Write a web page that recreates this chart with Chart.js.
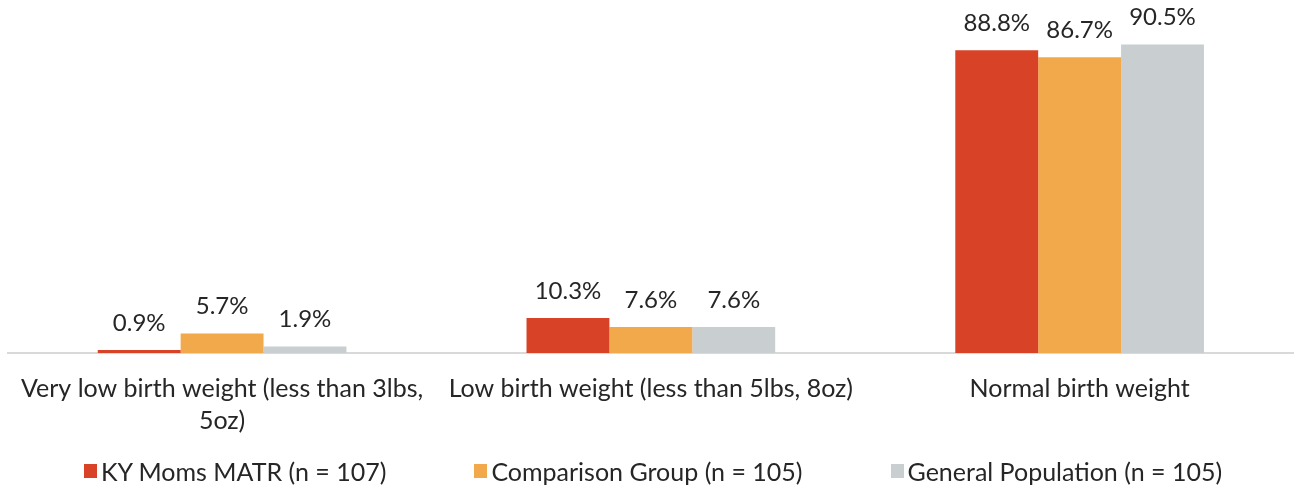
<!DOCTYPE html>
<html lang="en">
<head>
  <meta charset="UTF-8" />
  <title>Birth Weight by Group</title>
  <script src="https://cdn.jsdelivr.net/npm/chart.js"></script>
  <style>
    body {
      margin: 0;
      background: #ffffff;
      font-family: Lato, 'Noto Sans', sans-serif;
      color: #262626;
      overflow: hidden;
    }

    .wrap {
      position: relative;
      width: 1294px;
      height: 488px;
      overflow: hidden;
    }

    .chart-box {
      position: absolute;
      left: 0;
      top: 0;
      width: 1294px;
      height: 460px;
    }

    #legend {
      position: absolute;
      left: 0;
      top: 447px;
      width: 1294px;
      height: 48px;
      display: flex;
      justify-content: center;
      align-items: center;
      gap: 88px;
      padding-left: 12px;
      box-sizing: border-box;
      font-size: 25px;
    }

    .legend-item {
      display: flex;
      align-items: center;
    }

    .legend-box {
      width: 13px;
      height: 14px;
      margin-right: 4px;
    }
  </style>
</head>
<body>
  <div class="wrap">
    <div class="chart-box"><canvas id="weightChart"></canvas></div>
    <div id="legend"></div>
  </div>

<script>
const categories = [
  ["Very low birth weight (less than 3lbs,", "5oz)"],
  "Low birth weight (less than 5lbs, 8oz)",
  "Normal birth weight"
];

const seriesNames = [
  "KY Moms MATR (n = 107)",
  "Comparison Group (n = 105)",
  "General Population (n = 105)"
];

const kyMoms = [0.9, 10.3, 88.8];
const comparison = [5.7, 7.6, 86.7];
const generalPop = [1.9, 7.6, 90.5];

const colors = ["#D84328", "#F2A94C", "#C9CFD1"];
const textColor = "#262626";
const fontFamily = "Lato, 'Noto Sans', sans-serif";

// percent labels above each bar
const valueLabels = {
  id: "valueLabels",
  afterDatasetsDraw(chart) {
    const ctx = chart.ctx;
    ctx.save();
    ctx.font = "24px " + fontFamily;
    ctx.fillStyle = textColor;
    ctx.textAlign = "center";
    ctx.textBaseline = "middle";
    chart.data.datasets.forEach((ds, i) => {
      chart.getDatasetMeta(i).data.forEach((bar, j) => {
        ctx.fillText(ds.data[j].toFixed(1) + "%", bar.x, bar.y - 27);
      });
    });
    ctx.restore();
  }
};

const datasets = [kyMoms, comparison, generalPop].map((vals, i) => ({
  label: seriesNames[i],
  data: vals,
  backgroundColor: colors[i],
  categoryPercentage: 0.58,
  barPercentage: 1.0
}));

new Chart(document.getElementById("weightChart"), {
  type: "bar",
  data: { labels: categories, datasets: datasets },
  options: {
    responsive: true,
    maintainAspectRatio: false,
    animation: false,
    layout: { padding: { left: 6, right: 0, top: 12, bottom: 3 } },
    plugins: {
      legend: { display: false },
      tooltip: { enabled: false }
    },
    scales: {
      x: {
        grid: { display: false, drawTicks: false },
        border: { display: true, color: "#D9D9D9", width: 2 },
        ticks: {
          color: textColor,
          padding: 20,
          maxRotation: 0,
          autoSkip: false,
          font: { family: fontFamily, size: 25, lineHeight: 1.28 }
        }
      },
      y: {
        display: false,
        min: 0,
        max: 100
      }
    }
  },
  plugins: [valueLabels]
});

// legend row under the chart
const legend = document.getElementById("legend");
seriesNames.forEach((name, i) => {
  const item = document.createElement("div");
  item.className = "legend-item";
  item.innerHTML = `<span class="legend-box" style="background:${colors[i]}"></span><span>${name}</span>`;
  legend.appendChild(item);
});
</script>
</body>
</html>
